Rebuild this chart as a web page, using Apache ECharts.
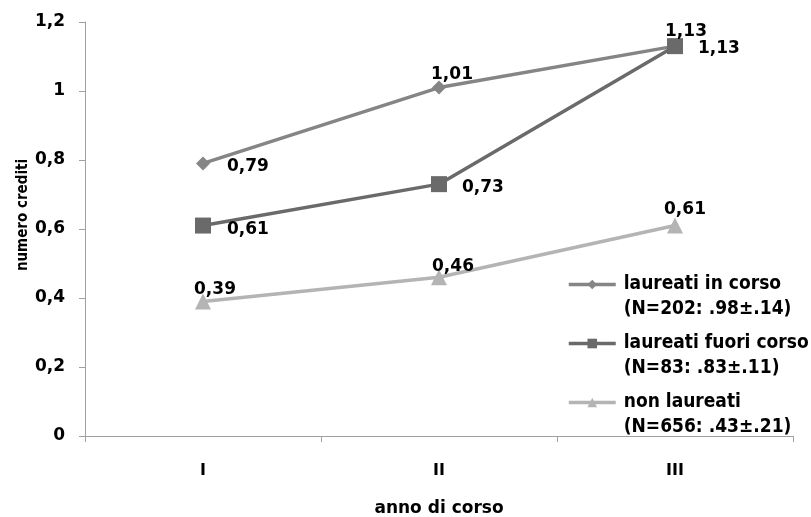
<!DOCTYPE html>
<html>
<head>
<meta charset="utf-8">
<script src="https://cdn.jsdelivr.net/npm/echarts@6/dist/echarts.min.js"></script>
<style>
html,body{margin:0;padding:0;background:#fff;}
#chart{width:811px;height:517px;}
</style>
</head>
<body>
<div id="chart"></div>
<script>
// Academic year categories
var anni = ['I', 'II', 'III'];
// Mean credits per year for each group
var laureatiInCorso = [0.79, 1.01, 1.13];
var laureatiFuoriCorso = [0.61, 0.73, 1.13];
var nonLaureati = [0.39, 0.46, 0.61];
// Legend names
var nomiSerie = [
  'laureati in corso\n(N=202: .98\u00b1.14)',
  'laureati fuori corso\n(N=83: .83\u00b1.11)',
  'non laureati\n(N=656: .43\u00b1.21)'
];

var fmt = function (v) { return v.toFixed(2).replace('.', ','); };
var labelFont = { fontFamily: 'DejaVu Sans', fontWeight: 'bold', fontSize: 17, color: '#000' };

// Build data items with a per-point label placement
function punti(vals, pos, offsets) {
  return vals.map(function (v, i) {
    var lab = Object.assign({
      show: true,
      position: pos[i],
      offset: offsets[i],
      formatter: function (p) { return fmt(p.value); }
    }, labelFont);
    return { value: v, label: lab };
  });
}

var chart = echarts.init(document.getElementById('chart'));
chart.setOption({
  animation: false,
  backgroundColor: '#fff',
  grid: { left: 85, right: 18, top: 22, bottom: 81, outerBoundsMode: 'none', containLabel: false },
  xAxis: {
    type: 'category',
    data: anni,
    boundaryGap: true,
    name: 'anno di corso',
    nameLocation: 'middle',
    nameGap: 64,
    nameTextStyle: { fontFamily: 'DejaVu Sans', fontWeight: 'bold', fontSize: 17, color: '#000' },
    axisLine: { lineStyle: { color: '#a0a0a0', width: 1 } },
    axisTick: { show: true, length: 6, inside: false, lineStyle: { color: '#a0a0a0' } },
    axisLabel: { fontFamily: 'DejaVu Sans', fontWeight: 'bold', fontSize: 16, color: '#000', margin: 27 }
  },
  yAxis: {
    type: 'value',
    min: 0, max: 1.2, interval: 0.2,
    name: 'numero crediti',
    nameLocation: 'middle',
    nameGap: 54,
    nameMoveOverlap: false,
    nameTextStyle: { fontFamily: 'DejaVu Sans Condensed', fontWeight: 'bold', fontSize: 15, color: '#000', padding: [0, 0, 0, 28] },
    axisLine: { show: true, lineStyle: { color: '#a0a0a0', width: 1 } },
    axisTick: { show: true, length: 6, lineStyle: { color: '#a0a0a0' } },
    splitLine: { show: false },
    axisLabel: {
      fontFamily: 'DejaVu Sans', fontWeight: 'bold', fontSize: 17, color: '#000', margin: 20,
      formatter: function (v) { return Math.abs(v - Math.round(v)) < 1e-9 ? String(Math.round(v)) : v.toFixed(1).replace('.', ','); }
    }
  },
  legend: {
    orient: 'vertical',
    left: 562,
    top: 242,
    itemWidth: 47,
    itemHeight: 12,
    itemGap: -16,
    data: nomiSerie,
    lineStyle: { width: 3.5 },
    // a leading blank line keeps the icon level with the first line of text
    formatter: function (name) { return '\n' + name; },
    textStyle: { fontFamily: 'DejaVu Sans Condensed', fontWeight: 'bold', fontSize: 19, color: '#000', lineHeight: 25, padding: [0, 0, 0, 3] },
    align: 'left'
  },
  series: [
    {
      name: nomiSerie[0], type: 'line',
      data: punti(laureatiInCorso, ['right', 'top', 'top'], [[12, 3], [13, 8], [11, 6]]),
      symbol: 'diamond', symbolSize: 14,
      lineStyle: { color: '#858585', width: 3.5 },
      itemStyle: { color: '#858585' }
    },
    {
      name: nomiSerie[1], type: 'line',
      data: punti(laureatiFuoriCorso, ['right', 'right', 'right'], [[11, 4], [10, 3], [10, 2]]),
      symbol: 'rect', symbolSize: 16,
      lineStyle: { color: '#6a6a6a', width: 3.5 },
      itemStyle: { color: '#6a6a6a' }
    },
    {
      name: nomiSerie[2], type: 'line',
      data: punti(nonLaureati, ['top', 'top', 'top'], [[12, 10], [14, 11], [10, 6]]),
      symbol: 'triangle', symbolSize: 16,
      lineStyle: { color: '#b4b4b4', width: 3.5 },
      itemStyle: { color: '#b4b4b4' }
    }
  ]
});
</script>
</body>
</html>
